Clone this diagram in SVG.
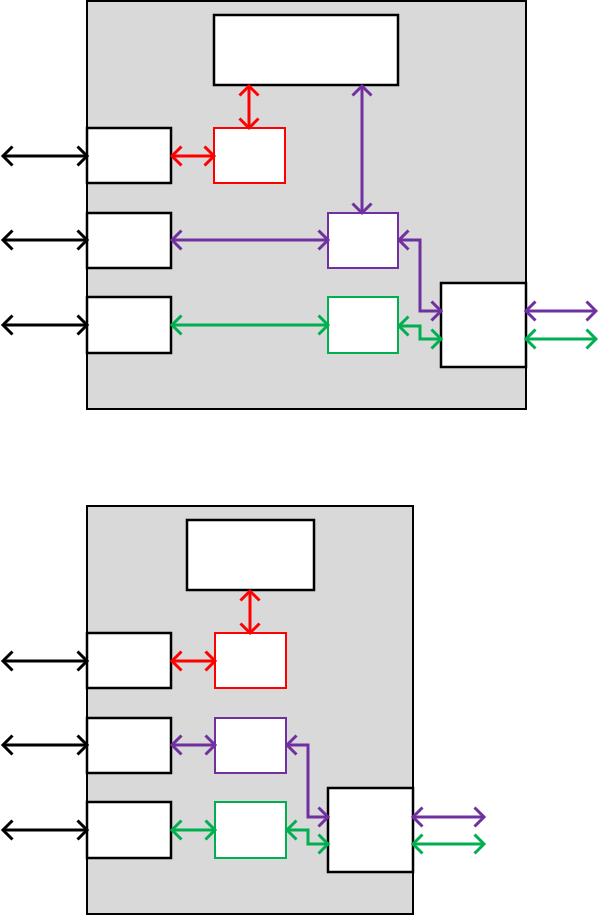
<svg xmlns="http://www.w3.org/2000/svg" width="598" height="916" viewBox="0 0 598 916">
<style>
.panel{fill:#D9D9D9;stroke:#000;stroke-width:2}
.box{fill:#fff;stroke:#000;stroke-width:2.5}
.rbox{fill:#fff;stroke:#FF0000;stroke-width:2}
.pbox{fill:#fff;stroke:#7030A0;stroke-width:2}
.gbox{fill:#fff;stroke:#00B050;stroke-width:2}
.c{fill:none;stroke-width:3}
.k{stroke:#000;marker-start:url(#mk);marker-end:url(#mk)}
.r{stroke:#FF0000;marker-start:url(#mr);marker-end:url(#mr)}
.p{stroke:#7030A0;marker-start:url(#mp);marker-end:url(#mp)}
.g{stroke:#00B050;marker-start:url(#mg);marker-end:url(#mg)}
</style>
<defs>
<marker id="mk" markerUnits="userSpaceOnUse" viewBox="-14 -14 16 28" refX="0" refY="0" markerWidth="16" markerHeight="28" orient="auto-start-reverse" overflow="visible"><path d="M-9.5,-9.5 L0,0 L-9.5,9.5" fill="none" stroke="#000" stroke-width="3"/></marker>
<marker id="mr" markerUnits="userSpaceOnUse" viewBox="-14 -14 16 28" refX="0" refY="0" markerWidth="16" markerHeight="28" orient="auto-start-reverse" overflow="visible"><path d="M-9.5,-9.5 L0,0 L-9.5,9.5" fill="none" stroke="#FF0000" stroke-width="3"/></marker>
<marker id="mp" markerUnits="userSpaceOnUse" viewBox="-14 -14 16 28" refX="0" refY="0" markerWidth="16" markerHeight="28" orient="auto-start-reverse" overflow="visible"><path d="M-9.5,-9.5 L0,0 L-9.5,9.5" fill="none" stroke="#7030A0" stroke-width="3"/></marker>
<marker id="mg" markerUnits="userSpaceOnUse" viewBox="-14 -14 16 28" refX="0" refY="0" markerWidth="16" markerHeight="28" orient="auto-start-reverse" overflow="visible"><path d="M-9.5,-9.5 L0,0 L-9.5,9.5" fill="none" stroke="#00B050" stroke-width="3"/></marker>
</defs>

<g id="panel1"><rect class="panel" x="87" y="1" width="439" height="408"/></g>
<g id="top1"><rect class="box" x="214" y="15" width="184" height="70"/></g>
<g id="left1a"><rect class="box" x="87" y="128" width="84" height="55"/></g>
<g id="left1b"><rect class="box" x="87" y="213" width="84" height="55"/></g>
<g id="left1c"><rect class="box" x="87" y="297" width="84" height="56"/></g>
<g id="red1"><rect class="rbox" x="214" y="128" width="71" height="55"/></g>
<g id="purple1"><rect class="pbox" x="328" y="213" width="70" height="55"/></g>
<g id="green1"><rect class="gbox" x="328" y="297" width="70" height="56"/></g>
<g id="right1"><rect class="box" x="441" y="283" width="85" height="84"/></g>

<g id="panel2"><rect class="panel" x="87" y="506" width="326" height="408"/></g>
<g id="top2"><rect class="box" x="187" y="520" width="127" height="70"/></g>
<g id="left2a"><rect class="box" x="87" y="633" width="84" height="55"/></g>
<g id="left2b"><rect class="box" x="87" y="718" width="84" height="55"/></g>
<g id="left2c"><rect class="box" x="87" y="802" width="84" height="56"/></g>
<g id="red2"><rect class="rbox" x="215" y="633" width="71" height="55"/></g>
<g id="purple2"><rect class="pbox" x="215" y="718" width="71" height="55"/></g>
<g id="green2"><rect class="gbox" x="215" y="802" width="71" height="56"/></g>
<g id="right2"><rect class="box" x="328" y="788" width="85" height="84"/></g>

<g id="connectors">
<path class="c k" d="M3,156 H87"/>
<path class="c k" d="M3,240 H87"/>
<path class="c k" d="M3,325 H87"/>
<path class="c r" d="M172,156 H214"/>
<path class="c r" d="M249,86 V128"/>
<path class="c p" d="M362,86 V213"/>
<path class="c p" d="M172,240 H328"/>
<path class="c g" d="M172,325 H328"/>
<path class="c p" d="M399,240 H420 V311 H441"/>
<path class="c g" d="M399,326 H420 V339 H441"/>
<path class="c p" d="M526,311 H596"/>
<path class="c g" d="M526,339 H596"/>

<path class="c k" d="M3,661 H87"/>
<path class="c k" d="M3,745 H87"/>
<path class="c k" d="M3,830 H87"/>
<path class="c r" d="M172,661 H215"/>
<path class="c p" d="M172,745 H215"/>
<path class="c g" d="M172,830 H215"/>
<path class="c r" d="M250,591 V633"/>
<path class="c p" d="M287,745 H308 V817 H328"/>
<path class="c g" d="M287,830 H308 V844 H328"/>
<path class="c p" d="M413,817 H484"/>
<path class="c g" d="M413,844 H484"/>
</g>
</svg>
